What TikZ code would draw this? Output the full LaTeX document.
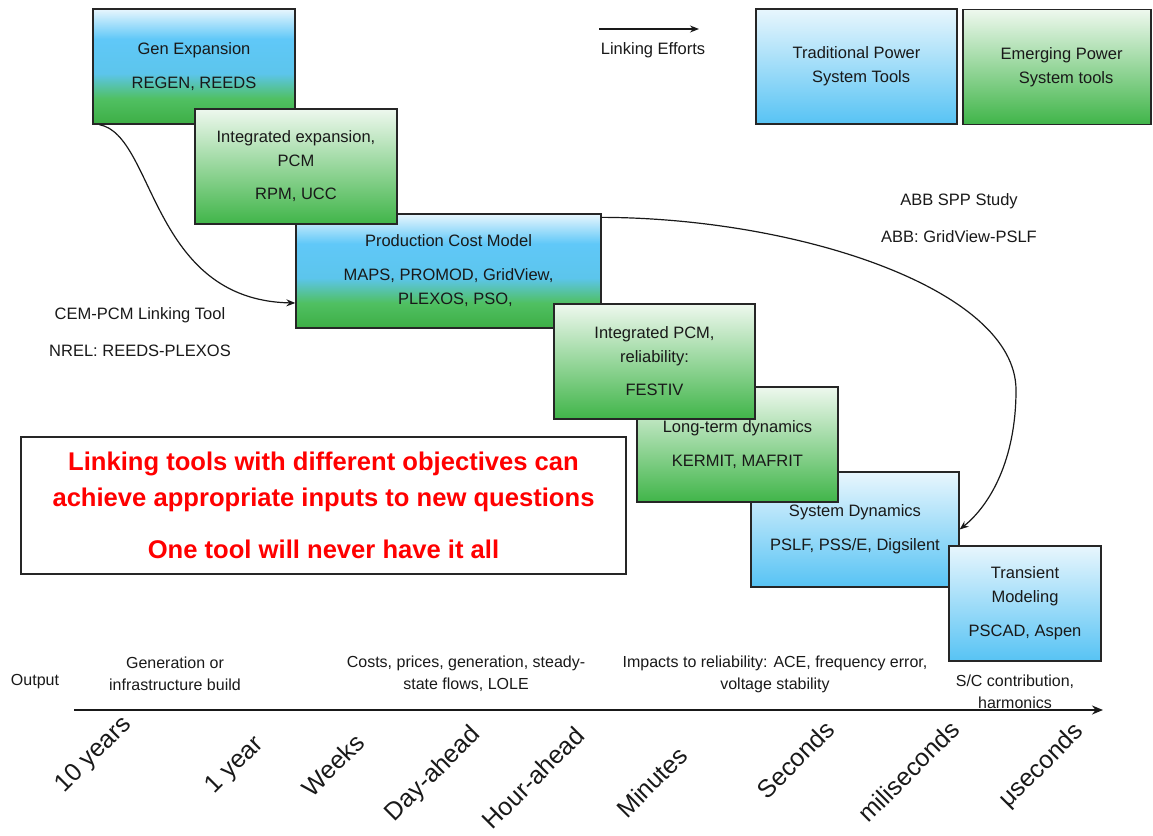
\documentclass[tikz,border=0pt]{standalone}
\usepackage{fontspec}
\setmainfont{Liberation Sans}
\usetikzlibrary{arrows.meta}
\definecolor{bgT}{HTML}{E8F6FD}
\definecolor{bgB2}{HTML}{60C8F8}
\definecolor{bgB1}{HTML}{5CC5EC}
\definecolor{bgG1}{HTML}{50C062}
\definecolor{bgG2}{HTML}{3DAE45}
\definecolor{gT}{HTML}{EEF8EE}
\definecolor{gB}{HTML}{40B549}
\definecolor{bT}{HTML}{E8F6FD}
\definecolor{bB}{HTML}{57C3F4}
\definecolor{msgred}{HTML}{FF0000}
\pgfdeclareverticalshading{bgshade}{100bp}{color(0bp)=(bgG2); color(25bp)=(bgG2); color(36bp)=(bgG1); color(47bp)=(bgB1); color(62bp)=(bgB2); color(75bp)=(bgT); color(100bp)=(bgT)}
\begin{document}
\begin{tikzpicture}[x=1pt,y=-1pt,
  box/.style={draw=black!85, line width=1.3pt, align=center, inner sep=2pt,
    font=\fontsize{16.5}{24}\selectfont, text=black!90},
  bgbox/.style={box, shading=bgshade},
  gbox/.style={box, top color=gT, bottom color=gB},
  bbox/.style={box, top color=bT, bottom color=bB},
  lbl/.style={align=center, font=\fontsize{16.5}{24}\selectfont, text=black!90},
  tl/.style={align=center, font=\fontsize{16}{22}\selectfont, text=black!90},
  tickl/.style={rotate=45, anchor=east, inner sep=0pt, font=\fontsize{25}{30}\selectfont, text=black!90},
  link/.style={line width=1.2pt, draw=black!90, -{Stealth[length=9pt,width=7pt]}}
]
\useasboundingbox (0,0) rectangle (1153,835);

% legend
\coordinate (le0) at (599,29);
\coordinate (le1) at (699,29);
\draw[link] (le0) -- (le1);
\node[lbl] (letxt) at (653,50) {Linking Efforts};
\node[bbox, minimum width=201pt, minimum height=115pt] (trad) at (856.5,66.5) {Traditional Power\\ \ \ System Tools};
\node[gbox, minimum width=188pt, minimum height=115pt] (emerg) at (1057,67) {\ \ Emerging Power\\ \ \ \ \ System tools};

% tool boxes (drawing order gives the overlaps)
\node[bgbox, minimum width=202pt, minimum height=115pt] (gen) at (194,66.5) {Gen Expansion\\[10pt]REGEN, REEDS};
\node[bgbox, minimum width=305pt, minimum height=114pt] (pcm) at (448.5,271) {Production Cost Model\\[10pt]MAPS, PROMOD, GridView,\\ \ \ \ PLEXOS, PSO,};
\node[gbox, minimum width=202pt, minimum height=115pt] (intexp) at (296,166.5) {Integrated expansion,\\PCM\\[9pt]RPM, UCC};
\node[bbox, minimum width=208pt, minimum height=115pt] (sysdyn) at (855,529.5) {System Dynamics\\[10pt]PSLF, PSS/E, Digsilent};
\node[gbox, minimum width=201pt, minimum height=115pt] (longterm) at (737.5,444.5) {Long-term dynamics\\[10pt]KERMIT, MAFRIT};
\node[gbox, minimum width=201pt, minimum height=115pt] (intpcm) at (654.5,361.5) {Integrated PCM,\\reliability:\\[9pt]FESTIV};
\node[bbox, minimum width=152pt, minimum height=115pt] (trans) at (1025,603.5) {Transient\\Modeling\\[10pt]PSCAD, Aspen};

% linking labels
\node[lbl] (abb) at (959,218.5) {ABB SPP Study\\[13pt]ABB: GridView-PSLF};
\node[lbl] (cem) at (140,332.5) {CEM-PCM Linking Tool\\[13pt]NREL: REEDS-PLEXOS};

% linking curves
\draw[link] ([xshift=7pt]gen.south west) .. controls (155,135) and (150,300) .. ([yshift=-32pt]pcm.west);
\draw[link] ([yshift=-4pt]pcm.north east) .. controls (800,218) and (1016,290) .. (1016,390)
  .. controls (1016,460) and (990,505) .. (sysdyn.east);

% message box
\node[draw=black!85, line width=1.3pt, fill=white, minimum width=605pt, minimum height=137pt,
  align=center, text=msgred, font=\fontsize{25.6}{36}\selectfont\bfseries] (msg) at (323.5,505.5)
  {Linking tools with different objectives can\\achieve appropriate inputs to new questions\\[16pt]One tool will never have it all};

% timeline
\node[tl] (out) at (35,682) {Output};
\node[tl] (o1) at (175,674) {Generation or\\infrastructure build};
\node[tl] (o2) at (466,674) {Costs, prices, generation, steady-\\state flows, LOLE};
\node[tl] (o3) at (775,674) {Impacts to reliability: ACE, frequency error,\\voltage stability};
\node[tl] (o4) at (1015,692) {S/C contribution,\\harmonics};
\coordinate (ax0) at (74,710);
\coordinate (ax1) at (1103,710);
\draw[line width=2.2pt, draw=black!90, -{Stealth[length=11pt,width=9pt]}] (ax0) -- (ax1);

\node[tickl] (t1) at (128,721) {10 years};
\node[tickl] (t2) at (260,741) {1 year};
\node[tickl] (t3) at (360,738) {Weeks};
\node[tickl] (t4) at (477,731) {Day-ahead};
\node[tickl] (t5) at (580,731) {Hour-ahead};
\node[tickl] (t6) at (683,751) {Minutes};
\node[tickl] (t7) at (830,725) {Seconds};
\node[tickl] (t8) at (955,725) {miliseconds};
\node[tickl] (t9) at (1080,728) {μseconds};
\end{tikzpicture}
\end{document}
